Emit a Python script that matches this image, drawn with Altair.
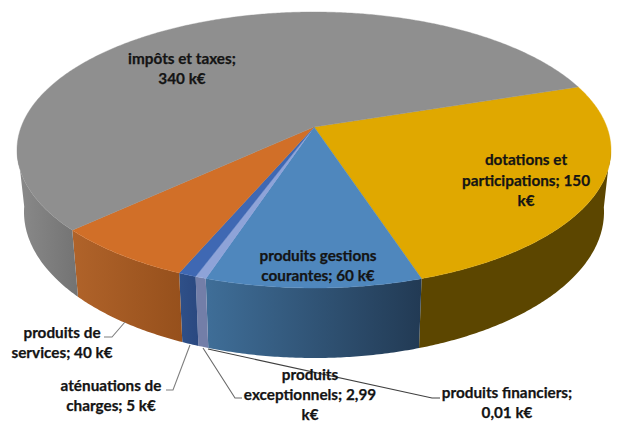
import math
import altair as alt

# --- data ---
categories = ["dotations et participations", "produits gestions courantes", "produits financiers",
              "produits exceptionnels", "aténuations de charges", "produits de services", "impôts et taxes"]
values_keur = [150, 60, 0.01, 2.99, 5, 40, 340]
top_colors = ["#e0a800", "#4f87bd", "#8ea3d8", "#8ea3d8", "#3f68b3", "#d16f28", "#8f8f8f"]
wall_left = ["#5c4600", "#3f6e98", "#737ea8", "#737ea8", "#2f5088", "#b0632a", "#8a8a8a"]
wall_right = ["#5c4600", "#223a54", "#737ea8", "#737ea8", "#2a4880", "#96501c", "#737373"]

label_lines = [["impôts et taxes;", "340 k€"],
               ["dotations et", "participations; 150", "k€"],
               ["produits gestions", "courantes; 60 k€"],
               ["produits de", "services; 40 k€"],
               ["aténuations de", "charges; 5 k€"],
               ["produits", "exceptionnels; 2,99", "k€"],
               ["produits financiers;", "0,01 k€"]]
label_x = [182, 526, 318, 62, 111, 310, 507]
label_y = [[59, 79], [160, 181, 201], [256, 276], [333, 353], [386, 406], [375, 395, 415], [393, 413]]

leaders = [[(125, 322), (112, 337), (104, 337)],
           [(190, 345), (173, 390), (166, 390)],
           [(203, 348), (235, 398), (242, 398)],
           [(208, 349), (432, 398), (440, 398)]]
leader_colors = ["#7f7f7f", "#7f7f7f", "#6a6a6a", "#404040"]

# --- geometry of the 3D pie ---
start_deg = 71.7
k = -0.167
s = math.sqrt(1 - k * k)
TOP = dict(cx=314, cy=150, rx=297, ry=138)
BOT = dict(cx=314, cy=212, rx=290, ry=146)


def uv(theta_deg):
    t = math.radians(theta_deg)
    X, Y = math.sin(t), -math.cos(t)
    d = 1 + k * Y
    return X * s / d, (Y + k) / d


def place(e, u, v):
    return [e["cx"] + e["rx"] * u, e["cy"] + e["ry"] * v]


def feature(ring):
    return {"type": "Feature", "properties": {},
            "geometry": {"type": "Polygon", "coordinates": [ring + [ring[0]]]}}


total = sum(values_keur)
angles = [start_deg]
for val in values_keur:
    angles.append(angles[-1] + val / total * 360)

proj = dict(type="identity", scale=1, translate=[-8, -8])
walls, tops = [], []
for i in range(len(values_keur)):
    a0, a1 = angles[i], angles[i + 1]
    n = max(2, int((a1 - a0) * 2))
    ths = [a0 + (a1 - a0) * j / n for j in range(n + 1)]
    front = [uv(t) for t in ths if uv(t)[1] >= -0.04]
    if len(front) >= 2:
        ring = [place(TOP, u, v) for u, v in front] + [place(BOT, u, v) for u, v in reversed(front)]
        grad = alt.LinearGradient(gradient="linear", x1=0, x2=1, y1=0, y2=0,
                                  stops=[alt.GradientStop(color=wall_left[i], offset=0),
                                         alt.GradientStop(color=wall_right[i], offset=1)])
        walls.append(alt.Chart(alt.Data(values=[feature(ring)])).mark_geoshape(fill=grad, strokeWidth=0).project(**proj))
    ring = [place(TOP, 0, k)] + [place(TOP, *uv(t)) for t in ths]
    tops.append(alt.Chart(alt.Data(values=[feature(ring)])).mark_geoshape(
        fill=top_colors[i], stroke=top_colors[i], strokeWidth=0.4).project(**proj))

xs = alt.Scale(domain=[8, 613])
ys = alt.Scale(domain=[416, 8])
X = alt.X("x:Q", scale=xs, axis=None)
Y = alt.Y("y:Q", scale=ys, axis=None)

lines = []
for pts, col in zip(leaders, leader_colors):
    rows = [{"x": p[0], "y": p[1], "o": j} for j, p in enumerate(pts)]
    lines.append(alt.Chart(alt.Data(values=rows)).mark_line(color=col, strokeWidth=1.1, clip=False)
                 .encode(x=X, y=Y, order="o:Q"))

text_rows = []
for lns, x, ysv in zip(label_lines, label_x, label_y):
    for ln, y in zip(lns, ysv):
        text_rows.append({"x": x, "y": y, "t": ln})
labels = alt.Chart(alt.Data(values=text_rows)).mark_text(
    font="Lato", fontWeight="bold", fontSize=15.3, color="#141414", stroke="#141414", strokeWidth=0.25,
    align="center", baseline="middle"
).encode(x=X, y=Y, text="t:N")

chart = alt.layer(*walls, *tops, *lines, labels).properties(
    width=605, height=408, padding=0
).configure_view(stroke=None)

chart.save("out.html", embed_options={"renderer": "svg", "actions": False})
